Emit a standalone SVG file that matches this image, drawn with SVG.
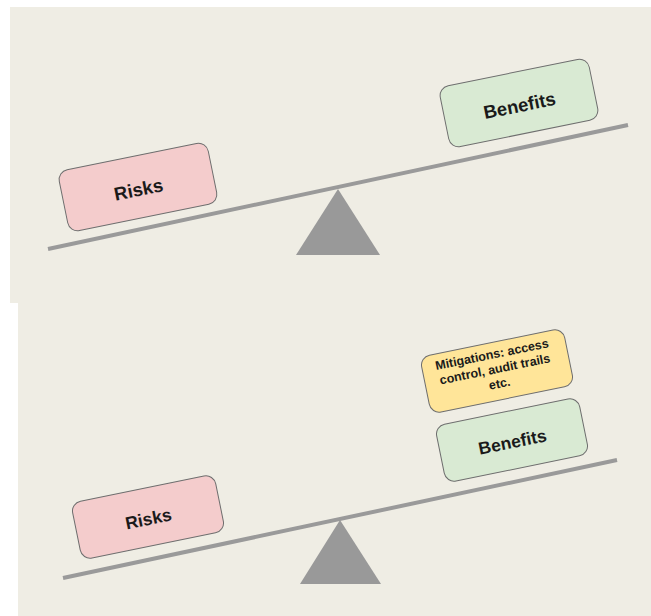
<svg xmlns="http://www.w3.org/2000/svg" width="651" height="616" viewBox="0 0 651 616">
  <style>
    .panel { fill: #efede4; }
    .beam { stroke: #9a9a9a; stroke-width: 4; fill: none; }
    .pivot { fill: #999999; }
    .box { stroke: #6e6e6e; stroke-width: 1; }
    .risk { fill: #f4cccc; }
    .benefit { fill: #d9ead3; }
    .mitig { fill: #ffe599; }
    .lbl { font-family: "Liberation Sans", Arial, sans-serif; font-weight: bold; fill: #1a1a1a; text-anchor: middle; }
  </style>
  <rect width="651" height="616" fill="#ffffff"/>
  <rect class="panel" x="10" y="7" width="641" height="296"/>
  <rect class="panel" x="18" y="303" width="633" height="313" fill="#efede6"/>

  <!-- top panel -->
  <g id="connectors-top">
    <line class="beam" x1="48" y1="249" x2="628" y2="125"/>
  </g>
  <g id="pivot-top">
    <polygon class="pivot" points="338,189 296,255 380,255"/>
  </g>
  <g id="risks-top" transform="translate(138,187) rotate(-11.5)">
    <rect class="box risk" x="-76" y="-31" width="152" height="62" rx="10"/>
    <text class="lbl" x="0" y="9" font-size="18.5">Risks</text>
  </g>
  <g id="benefits-top" transform="translate(519,103) rotate(-11.5)">
    <rect class="box benefit" x="-76" y="-31" width="152" height="62" rx="10"/>
    <text class="lbl" x="0" y="9" font-size="18.5">Benefits</text>
  </g>

  <!-- bottom panel -->
  <g id="connectors-bottom">
    <line class="beam" x1="63" y1="578" x2="617" y2="460"/>
  </g>
  <g id="pivot-bottom">
    <polygon class="pivot" points="340,520 300,584 381,584"/>
  </g>
  <g id="risks-bottom" transform="translate(148,517) rotate(-11.5)">
    <rect class="box risk" x="-73" y="-29" width="146" height="58" rx="10"/>
    <text class="lbl" x="0" y="8" font-size="17.5">Risks</text>
  </g>
  <g id="benefits-bottom" transform="translate(512,440) rotate(-11.5)">
    <rect class="box benefit" x="-73" y="-29" width="146" height="58" rx="10"/>
    <text class="lbl" x="0" y="8" font-size="17.5">Benefits</text>
  </g>
  <g id="mitigations" transform="translate(497,371) rotate(-11.5)">
    <rect class="box mitig" x="-73" y="-29" width="146" height="58" rx="10"/>
    <text class="lbl" font-size="12.5">
      <tspan x="0" y="-13">Mitigations: access</tspan>
      <tspan x="0" y="2">control, audit trails</tspan>
      <tspan x="0" y="17">etc.</tspan>
    </text>
  </g>
</svg>
